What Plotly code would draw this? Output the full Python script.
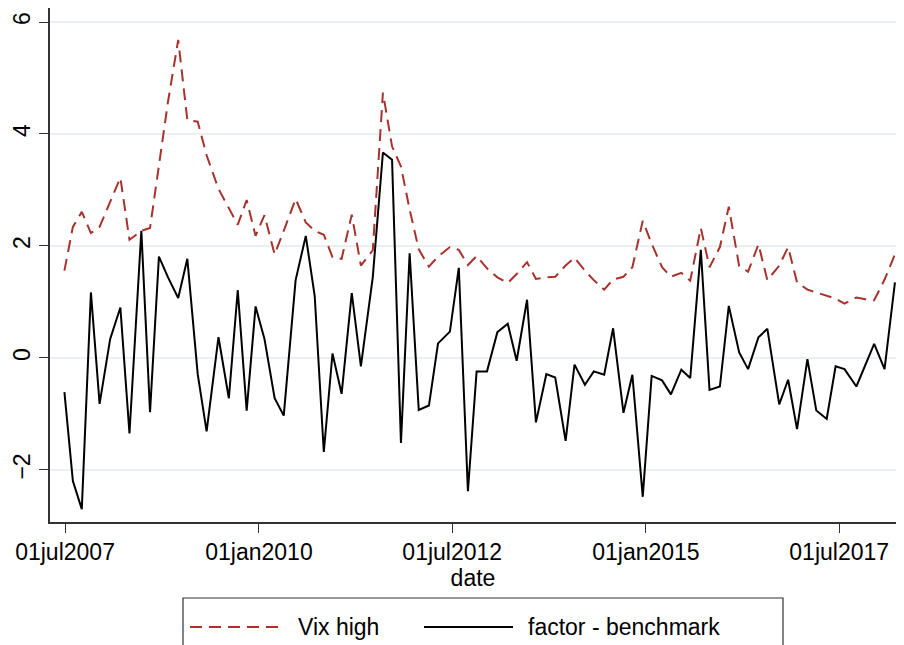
import plotly.graph_objects as go

# Meeting dates (x)
dates = [
    "2007-06-28", "2007-08-07", "2007-09-18", "2007-10-31", "2007-12-11",
    "2008-01-30", "2008-03-18", "2008-04-30", "2008-06-25", "2008-08-05", "2008-09-16", "2008-10-29", "2008-12-16",
    "2009-01-28", "2009-03-18", "2009-04-29", "2009-06-24", "2009-08-12", "2009-09-23", "2009-11-04", "2009-12-16",
    "2010-01-27", "2010-03-16", "2010-04-28", "2010-06-23", "2010-08-10", "2010-09-21", "2010-11-03", "2010-12-14",
    "2011-01-26", "2011-03-15", "2011-04-27", "2011-06-22", "2011-08-09", "2011-09-21", "2011-11-02", "2011-12-13",
    "2012-01-25", "2012-03-13", "2012-04-25", "2012-06-20", "2012-08-01", "2012-09-13", "2012-10-24", "2012-12-12",
    "2013-01-30", "2013-03-20", "2013-05-01", "2013-06-19", "2013-07-31", "2013-09-18", "2013-10-30", "2013-12-18",
    "2014-01-29", "2014-03-19", "2014-04-30", "2014-06-18", "2014-07-30", "2014-09-17", "2014-10-29", "2014-12-17",
    "2015-01-28", "2015-03-18", "2015-04-29", "2015-06-17", "2015-07-29", "2015-09-17", "2015-10-28", "2015-12-16",
    "2016-01-27", "2016-03-16", "2016-04-27", "2016-06-15", "2016-07-27", "2016-09-21", "2016-11-02", "2016-12-14",
    "2017-02-01", "2017-03-15", "2017-05-03", "2017-06-14", "2017-07-26", "2017-09-20", "2017-11-01", "2017-12-13",
    "2018-01-31", "2018-03-21",
]

vix_high = [
    1.56, 2.34, 2.61, 2.23, 2.34,
    2.80, 3.22, 2.11, 2.27, 2.32, 3.45, 4.58, 5.68,
    4.25, 4.22, 3.62, 3.02, 2.68, 2.38, 2.82, 2.18,
    2.55, 1.85, 2.27, 2.84, 2.42, 2.27, 2.20, 1.80,
    1.77, 2.56, 1.65, 1.92, 4.74, 3.78, 3.42, 2.65,
    1.94, 1.63, 1.81, 1.98, 1.93, 1.66, 1.82, 1.60,
    1.44, 1.34, 1.50, 1.71, 1.41, 1.44, 1.45, 1.65,
    1.79, 1.56, 1.39, 1.22, 1.40, 1.45, 1.62, 2.45,
    2.04, 1.62, 1.45, 1.52, 1.38, 2.32, 1.62, 1.98,
    2.70, 1.64, 1.54, 2.03, 1.39, 1.65, 1.98, 1.35,
    1.22, 1.17, 1.11, 1.06, 0.97, 1.08, 1.05, 1.03,
    1.40, 1.85,
]

factor_minus_benchmark = [
    -0.61, -2.20, -2.70, 1.17, -0.82,
    0.34, 0.90, -1.35, 2.27, -0.97, 1.81, 1.44, 1.07,
    1.77, -0.29, -1.31, 0.37, -0.72, 1.21, -0.94, 0.92,
    0.34, -0.72, -1.03, 1.39, 2.18, 1.11, -1.68, 0.08,
    -0.64, 1.16, -0.15, 1.44, 3.67, 3.54, -1.52, 1.87,
    -0.93, -0.85, 0.26, 0.47, 1.61, -2.38, -0.24, -0.24,
    0.46, 0.61, -0.05, 1.04, -1.15, -0.29, -0.35, -1.48,
    -0.12, -0.48, -0.24, -0.30, 0.53, -0.98, -0.30, -2.48,
    -0.32, -0.40, -0.65, -0.21, -0.36, 1.93, -0.57, -0.51,
    0.93, 0.10, -0.20, 0.37, 0.52, -0.83, -0.39, -1.27,
    -0.02, -0.94, -1.09, -0.15, -0.20, -0.51, -0.13, 0.25,
    -0.20, 1.35,
]

x_tick_vals = ["2007-07-01", "2010-01-01", "2012-07-01", "2015-01-01", "2017-07-01"]
x_tick_text = ["01jul2007", "01jan2010", "01jul2012", "01jan2015", "01jul2017"]
y_tick_vals = [-2, 0, 2, 4, 6]

series_names = ["Vix high", "factor - benchmark"]
RED = "#a8322b"
FONT = "Liberation Sans, Arial, Helvetica, sans-serif"
FS = 23

fig = go.Figure()
fig.add_trace(go.Scatter(x=dates, y=vix_high, mode="lines", name=series_names[0],
                         line=dict(color=RED, width=2, dash="12px,7px"), showlegend=False))
fig.add_trace(go.Scatter(x=dates, y=factor_minus_benchmark, mode="lines", name=series_names[1],
                         line=dict(color="black", width=2), showlegend=False))

# The page has an 8px body margin and only ~888px of width are visible for the figure
OFF = 8
W, H = 904 - 2 * OFF, 645 - OFF
PLOT_BOTTOM = 522  # page pixel of the x axis line
ML, MR, MT = 50 - OFF, 0, 0
MB = H - (PLOT_BOTTOM - OFF)
PW, PH = W - ML - MR, H - MT - MB


def px(xp):  # page pixel x -> paper fraction
    return (xp - OFF - ML) / PW


def py(yp):  # page pixel y -> paper fraction
    return (H - MB - (yp - OFF)) / PH


# Legend box (drawn manually so the sample lines are long, like the original)
fig.add_shape(type="rect", xref="paper", yref="paper",
              x0=px(183), x1=px(783), y0=py(665), y1=py(598),
              line=dict(color="#333333", width=1.2), fillcolor="white")
fig.add_shape(type="line", xref="paper", yref="paper",
              x0=px(190), x1=px(282), y0=py(627), y1=py(627),
              line=dict(color=RED, width=2, dash="12px,7px"))
fig.add_shape(type="line", xref="paper", yref="paper",
              x0=px(424), x1=px(513), y0=py(627), y1=py(627),
              line=dict(color="black", width=2))
fig.add_annotation(xref="paper", yref="paper", x=px(296), y=py(627), text=series_names[0],
                   showarrow=False, xanchor="left", yanchor="middle",
                   font=dict(family=FONT, size=FS, color="black"))
fig.add_annotation(xref="paper", yref="paper", x=px(526), y=py(627), text=series_names[1],
                   showarrow=False, xanchor="left", yanchor="middle",
                   font=dict(family=FONT, size=FS, color="black"))

fig.update_layout(
    width=W, height=H,
    margin=dict(l=ML, r=MR, t=MT, b=MB, pad=0, autoexpand=False),
    paper_bgcolor="white", plot_bgcolor="white",
    font=dict(family=FONT, size=FS, color="black"),
    xaxis=dict(
        type="date", range=["2007-04-21", "2018-03-26"],
        tickmode="array", tickvals=x_tick_vals, ticktext=x_tick_text,
        ticks="outside", ticklen=9, tickwidth=1.2, tickcolor="#333333",
        showgrid=False, zeroline=False, automargin=False,
        showline=True, linecolor="#333333", linewidth=1.5,
        tickfont=dict(size=FS),
        title=dict(text="date", font=dict(size=FS), standoff=2),
    ),
    yaxis=dict(
        range=[-2.93, 6.25],
        tickmode="array", tickvals=y_tick_vals,
        ticks="outside", ticklen=9, tickwidth=1.2, tickcolor="#333333",
        tickangle=-90, automargin=False,
        showgrid=True, gridcolor="#e9f0f3", gridwidth=1.5,
        zeroline=False,
        showline=True, linecolor="#333333", linewidth=1.5,
        tickfont=dict(size=FS),
    ),
)

fig.write_html("out.html")
